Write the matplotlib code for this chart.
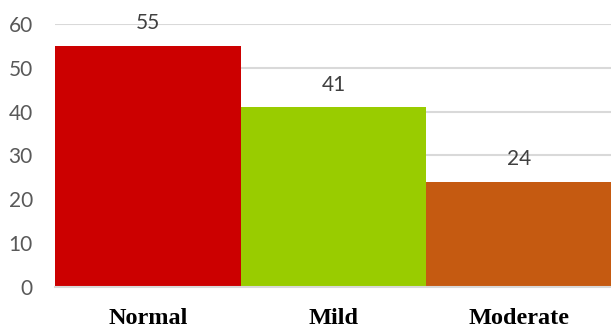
import matplotlib.pyplot as plt

categorias = ['Normal', 'Mild', 'Moderate']
valores = [55, 41, 24]
cores = ['#CC0000', '#99CC00', '#C55A11']

fig = plt.figure(figsize=[6.11, 3.29], dpi=100)
ax = fig.add_axes([0.09, 0.128, 0.912, 0.799])

barras = ax.bar(categorias, valores, width=1.0, color=cores, zorder=2)
ax.bar_label(barras, labels=[str(v) for v in valores], padding=9,
             fontsize=15, color='#404040', family='Lato')

ax.set_ylim(0, 60)
ax.set_xlim(-0.5, 2.5)
ax.set_yticks(range(0, 61, 10))
ax.yaxis.grid(True, color='#D9D9D9', linewidth=1.5, zorder=0)
ax.set_axisbelow(True)

for lado in ['top', 'right', 'left']:
    ax.spines[lado].set_visible(False)
ax.spines['bottom'].set_color('#D9D9D9')
ax.spines['bottom'].set_linewidth(1.5)

ax.tick_params(axis='y', length=0, pad=16, labelsize=15, labelcolor='#595959')
ax.tick_params(axis='x', length=0, pad=15)
for rotulo in ax.get_yticklabels():
    rotulo.set_family('Lato')
for rotulo in ax.get_xticklabels():
    rotulo.set_family('Liberation Serif')
    rotulo.set_fontweight('bold')
    rotulo.set_fontsize(17.5)

plt.savefig('out.png', dpi=100)
